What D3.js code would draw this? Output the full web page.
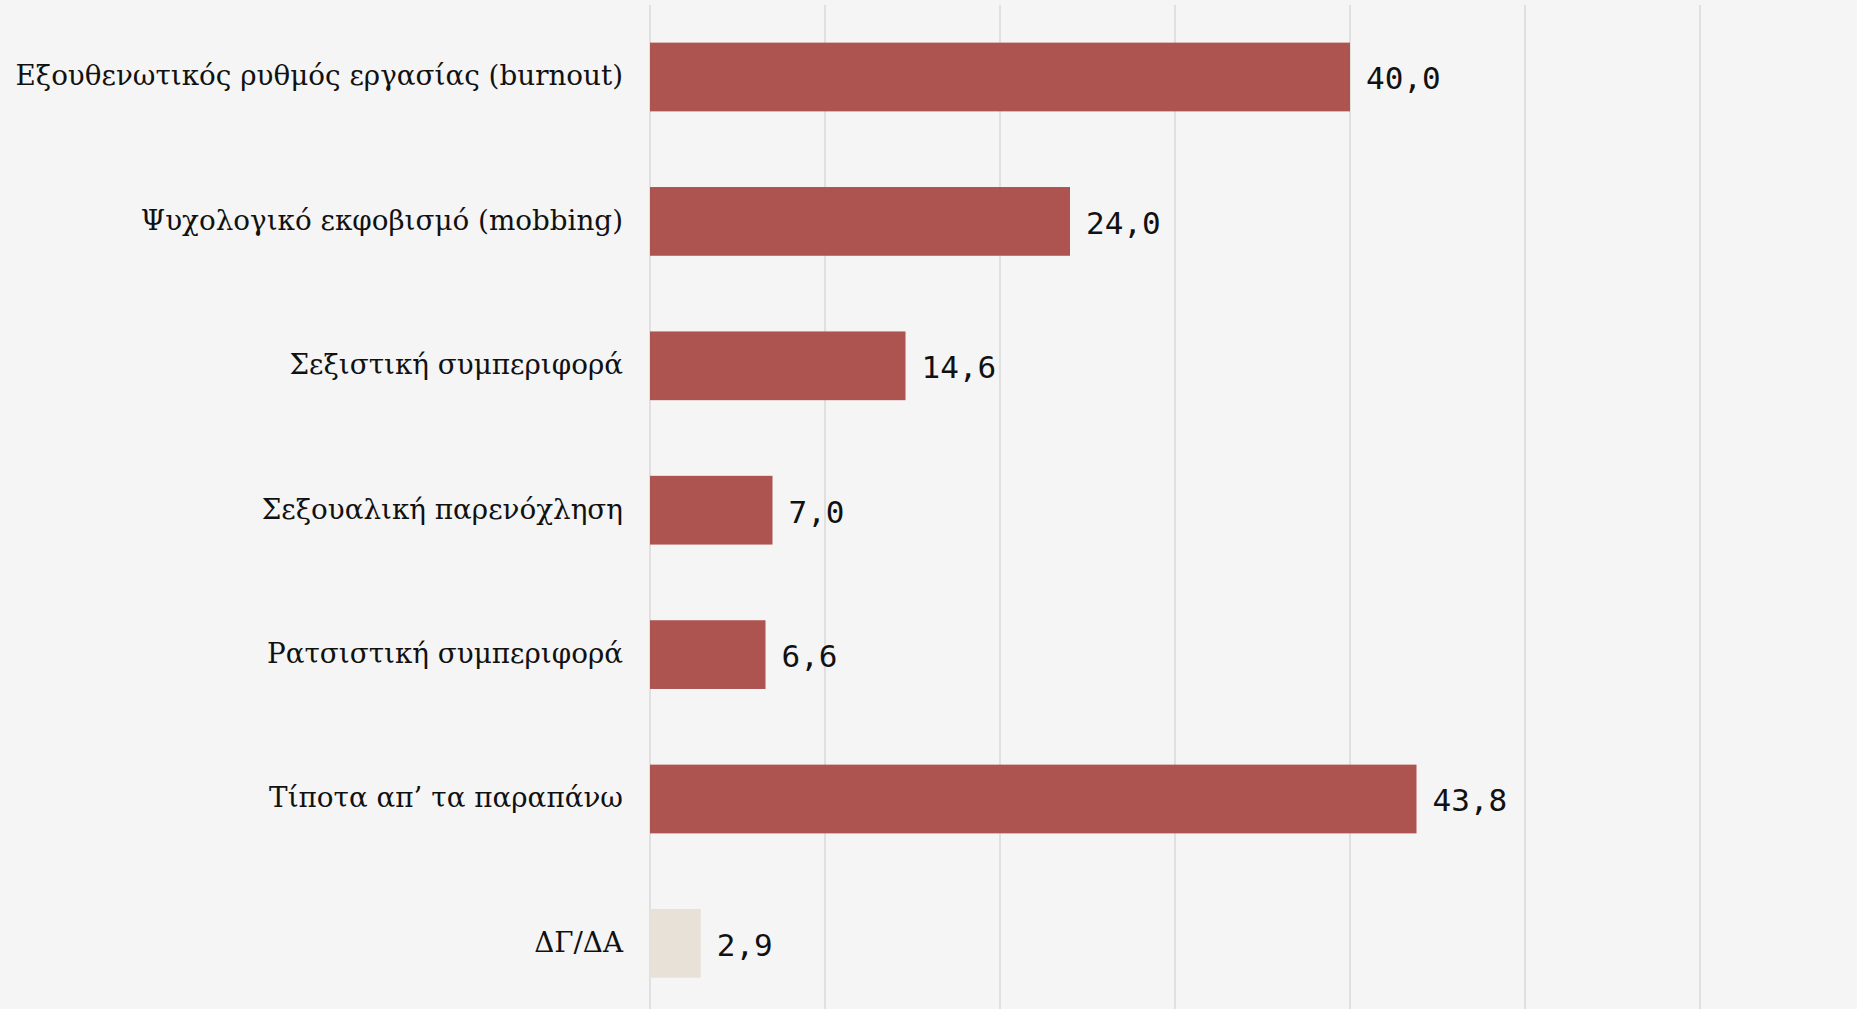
<!DOCTYPE html>
<html>
<head>
<meta charset="utf-8">
<script src="https://cdn.jsdelivr.net/npm/d3@7"></script>
<style>
  html, body { margin: 0; padding: 0; background: #f5f5f5; }
  svg { display: block; }
</style>
</head>
<body>
<div id="chart-area"></div>
<script>
// Δεδομένα
var categories = [
	"Εξουθενωτικός ρυθμός εργασίας (burnout)",
	"Ψυχολογικό εκφοβισμό (mobbing)",
	"Σεξιστική συμπεριφορά",
	"Σεξουαλική παρενόχληση",
	"Ρατσιστική συμπεριφορά",
	"Τίποτα απ’ τα παραπάνω",
	"ΔΓ/ΔΑ"
];
var values = [40.0, 24.0, 14.6, 7.0, 6.6, 43.8, 2.9];
var tickValues = [0, 10, 20, 30, 40, 50, 60];

var data = categories.map((c, i) => ({ name: c, value: values[i] }));

var W = 1857, H = 1009;
var margin = { left: 650, right: 157, top: 5, bottom: 0 };

var svg = d3.select("#chart-area")
	.append("svg")
	.attr("width", W)
	.attr("height", H);

svg.append("rect")
	.attr("width", W)
	.attr("height", H)
	.attr("fill", "#f5f5f5");

var x = d3.scaleLinear()
	.domain([0, 60])
	.range([margin.left, W - margin.right]);

var y = d3.scaleBand()
	.domain(categories)
	.range([4.8, 4.8 + 7 * 144.4])
	.paddingInner(0.524)
	.paddingOuter(0.262);

// Γραμμές πλέγματος
svg.append("g")
	.attr("class", "grid")
	.selectAll("line")
	.data(tickValues)
	.enter()
	.append("line")
		.attr("x1", d => x(d))
		.attr("x2", d => x(d))
		.attr("y1", margin.top)
		.attr("y2", H)
		.attr("stroke", "#d9d9d9")
		.attr("stroke-width", 1.5);

// Μπάρες
svg.append("g")
	.selectAll("rect")
	.data(data)
	.enter()
	.append("rect")
		.attr("x", x(0))
		.attr("y", d => y(d.name))
		.attr("width", d => x(d.value) - x(0))
		.attr("height", y.bandwidth())
		.attr("fill", (d, i) => i === data.length - 1 ? "#e8e1d8" : "#ad5350");

// Ετικέτες κατηγοριών
svg.append("g")
	.selectAll("text")
	.data(data)
	.enter()
	.append("text")
		.attr("x", x(0) - 27)
		.attr("y", d => y(d.name) + y.bandwidth() / 2)
		.attr("dy", "0.3em")
		.attr("text-anchor", "end")
		.attr("font-family", "'DejaVu Serif', serif")
		.attr("font-size", "27.8px")
		.attr("fill", "#111")
		.text(d => d.name);

// Τιμές
svg.append("g")
	.selectAll("text")
	.data(data)
	.enter()
	.append("text")
		.attr("x", d => x(d.value) + 16)
		.attr("y", d => y(d.name) + y.bandwidth() / 2)
		.attr("dy", "0.4em")
		.attr("font-family", "'DejaVu Sans Mono', monospace")
		.attr("font-size", "31px")
		.attr("fill", "#111")
		.text(d => d3.format(".1f")(d.value).replace(".", ","));
</script>
</body>
</html>
